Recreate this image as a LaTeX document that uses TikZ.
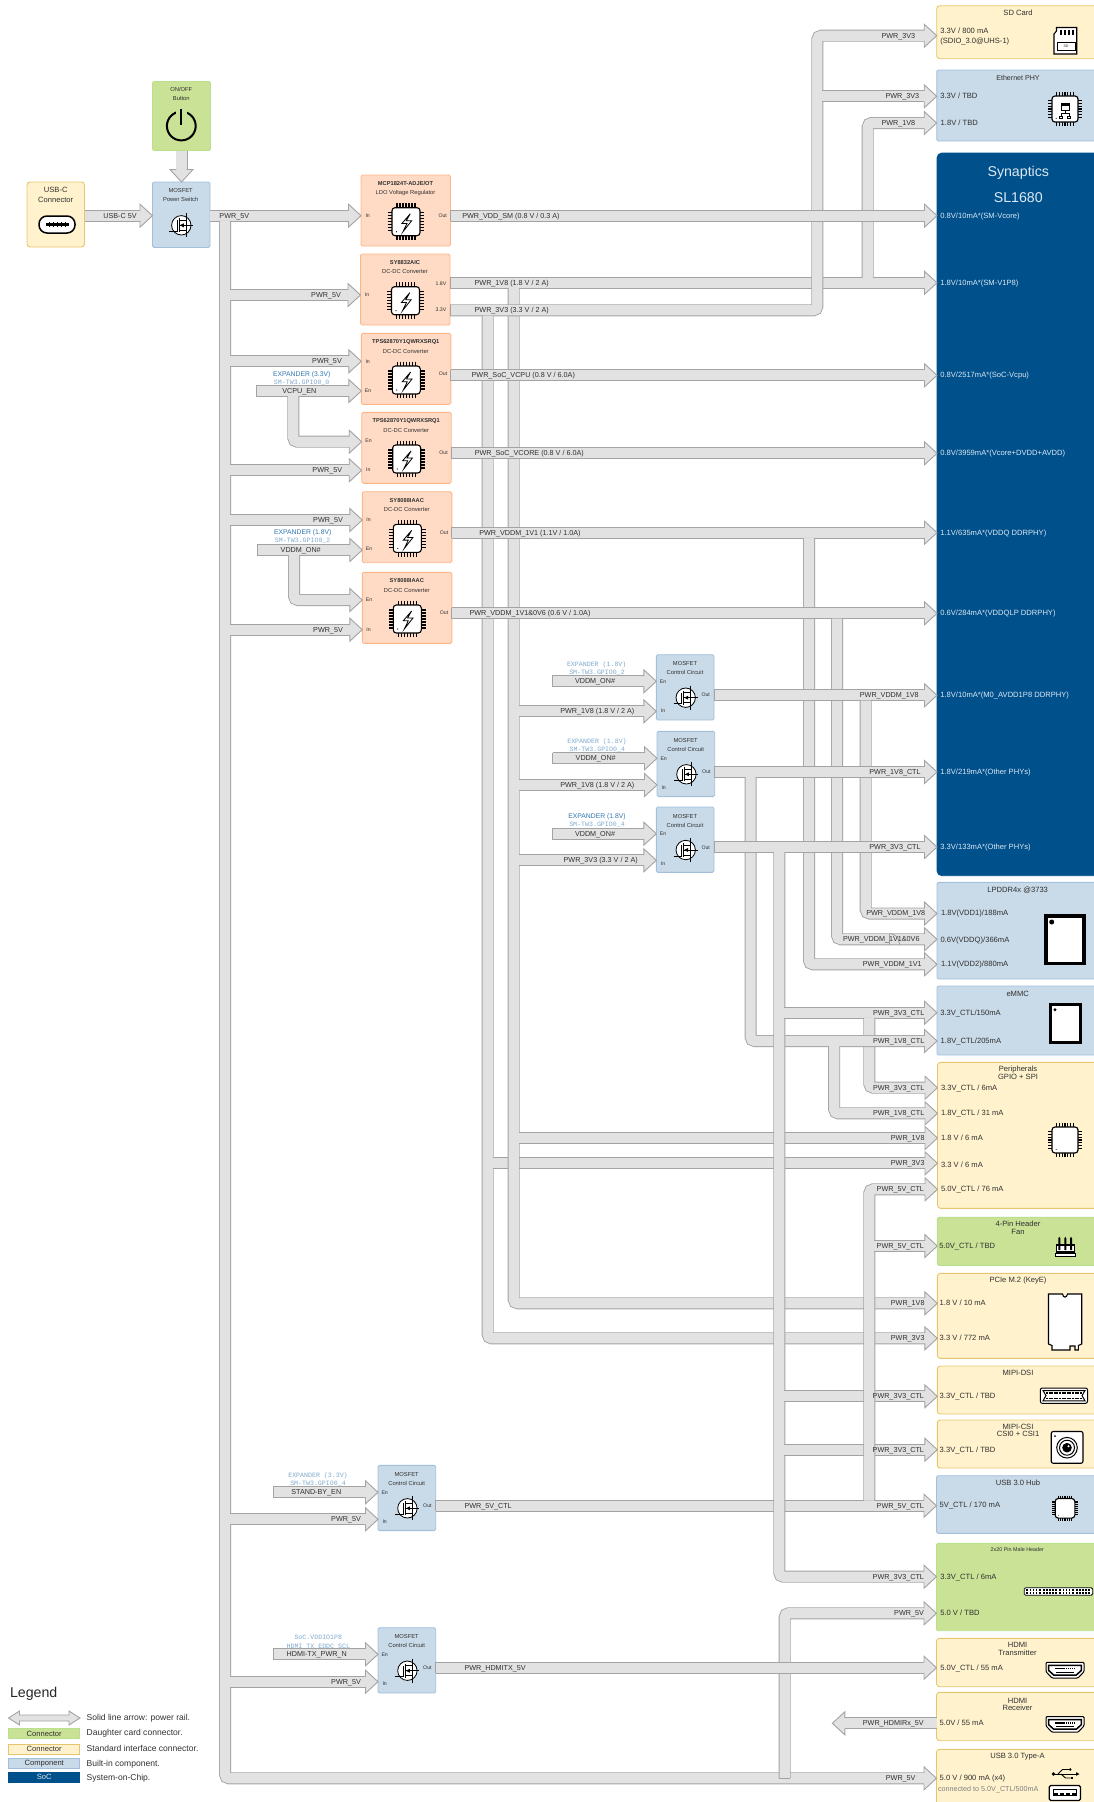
\documentclass[tikz,border=0pt]{standalone}
\usepackage{fontspec}
\setmainfont{Liberation Sans}
\setmonofont{Liberation Mono}
\definecolor{railfill}{HTML}{E2E2E2}
\definecolor{railedge}{HTML}{A3A3A3}
\definecolor{txtc}{HTML}{303030}
\definecolor{orF}{HTML}{FFDAC4}
\definecolor{orS}{HTML}{FFB585}
\definecolor{blF}{HTML}{C9DAE8}
\definecolor{blS}{HTML}{A2C0DC}
\definecolor{grF}{HTML}{C9E296}
\definecolor{grS}{HTML}{B9E08C}
\definecolor{yeF}{HTML}{FFF2CC}
\definecolor{yeS}{HTML}{E6C56E}
\definecolor{socF}{HTML}{00508C}
\definecolor{socT}{HTML}{DCE8F2}
\definecolor{monoB}{HTML}{7FA9CC}
\definecolor{sansB}{HTML}{2E75B0}
\newcounter{tn}
\tikzset{
  railline/.style={double=railfill,draw=railedge,line width=.9pt,double distance=10.2pt,rounded corners=4pt},
  railhd/.style={draw=railedge,fill=railfill,line width=.9pt,line join=miter},
  railcap/.style={draw=railedge,line width=.9pt},
  bx/.style={rectangle,draw,line width=.9pt,inner sep=0pt,outer sep=0pt,anchor=north west,rounded corners=1.5pt},
  obx/.style={fill=orF,draw=orS},
  bbx/.style={fill=blF,draw=blS},
  gbx/.style={fill=grF,draw=grS},
  ybx/.style={fill=yeF,draw=yeS,rounded corners=3pt},
  sbx/.style={fill=socF,draw=socF,rounded corners=5pt},
  txt/.style={inner sep=0pt,outer sep=0pt,text=txtc},
  rl/.style={font=\fontsize{7.2}{8.6}\selectfont,text height=5.2pt,text depth=.4pt},
  tl/.style={font=\fontsize{7.6}{9}\selectfont,text height=5.5pt,text depth=.3pt},
  sl/.style={font=\fontsize{5.8}{7}\selectfont,text height=4.2pt,text depth=.3pt},
  bsl/.style={font=\bfseries\fontsize{5.7}{7}\selectfont,text height=4.2pt,text depth=.3pt},
  pl/.style={font=\fontsize{5.2}{6}\selectfont,text height=3.8pt,text depth=.2pt},
  ml/.style={font=\ttfamily\fontsize{6.6}{8}\selectfont,text=monoB,text height=4.4pt,text depth=.4pt},
  bl/.style={font=\fontsize{6.8}{8}\selectfont,text=sansB,text height=5pt,text depth=.4pt},
  lg/.style={font=\fontsize{8.55}{10}\selectfont,text height=6.2pt,text depth=.4pt},
  hg/.style={font=\fontsize{14.2}{16}\selectfont,text height=10.2pt,text depth=0pt},
  lgb/.style={font=\fontsize{7.6}{9}\selectfont,text height=5.5pt,text depth=.3pt,minimum width=71pt,minimum height=10pt,rounded corners=0pt},
  lft/.style={anchor=west},
  icon/.style={draw=black,line width=1.1pt,fill=white},
  pics/chipic/.style={code={
    \foreach \p in {-9,-6,-3,0,3,6,9}{
      \draw[line width=1.1pt] (\p,-18.3)--(\p,18.3);
      \draw[line width=1.1pt] (-18.3,\p)--(18.3,\p);
    }
    \draw[fill=white,line width=1.1pt,rounded corners=3pt] (-14,-14) rectangle (14,14);
    \fill (-9.5,10) circle (.6pt);
  }},
  pics/boltic/.style={code={
    \draw[line width=.8pt,line join=miter] (4.3,-8)--(-4,1.7)--(1,1.7)--(-3,10)--(5.7,-1)--(.3,-1)--cycle;
  }},
  pics/mosic/.style={code={
    \draw[fill=white,line width=.8pt] (0,0) circle (9.7pt);
    \draw[line width=.7pt] (-12,6)--(-4,6)--(-4,-5);
    \draw[line width=.9pt] (-2,-7)--(-2,7);
    \draw[line width=.7pt] (-2,-5)--(5,-5);
    \draw[line width=.7pt] (-2,5)--(5,5);
    \draw[line width=.7pt] (5,-12)--(5,12);
    \draw[line width=.7pt] (-2,0)--(12,0);
    \fill (-1.5,0)--(2.5,-2)--(2.5,2)--cycle;
  }},
  pics/hdmiic/.style={code={
    \draw[line width=1pt,fill=white,rounded corners=1pt] (-19,-7.8)--(19,-7.8)--(19,1.5)--(13,7.8)--(-13,7.8)--(-19,1.5)--cycle;
    \draw[line width=1.5pt,fill=white] (-16.3,-4.8)--(16.3,-4.8)--(16.3,.3)--(11.3,4.8)--(-11.3,4.8)--(-16.3,.3)--cycle;
    \draw[line width=1.4pt,dash pattern=on 1.6pt off .5pt] (-10,-1.6)--(10,-1.6);
    \draw[line width=.9pt] (-9,2.2)--(9,2.2);
  }}
}
\newcommand{\lab}[3][]{\stepcounter{tn}\node[txt,#1] (t\arabic{tn}) at (#2) {#3};}
\newcommand{\railhead}[2]{\begin{scope}[shift={#1},rotate=#2]\draw[railhd] (-12.5,-5.2)--(-12.5,-11.5)--(0,0)--(-12.5,11.5)--(-12.5,5.2);\end{scope}}
\newcommand{\railR}[2]{\coordinate (rtip) at #2; \draw[railline] #1 -- ([xshift=-12pt]rtip); \railhead{(rtip)}{0}}
\newcommand{\railD}[2]{\coordinate (rtip) at #2; \draw[railline] #1 -- ([yshift=12pt]rtip); \railhead{(rtip)}{-90}}
\newcommand{\railL}[2]{\coordinate (rtip) at #2; \draw[railline] #1 -- ([xshift=12pt]rtip); \railhead{(rtip)}{180}}
\newcommand{\stub}[1]{\coordinate (stb) at #1; \draw[railcap] ([yshift=5.6pt]stb) -- ([yshift=-5.6pt]stb);}
\newcommand{\obox}[5]{%
  \node[bx,obx,minimum width=89.5pt,minimum height=71pt] (#1) at (#2,#3) {};
  \lab[bsl]{#2+44.5,#3+8.7}{#4}
  \lab[sl]{#2+44.5,#3+18}{#5}
  \pic at (#2+45,#3+46.7) {chipic};
  \pic at (#2+45,#3+46.7) {boltic};
}
\newcommand{\cbox}[3]{%
  \node[bx,bbx,minimum width=57.7pt,minimum height=65.3pt] (#1) at (#2,#3) {};
  \lab[sl]{#2+28.7,#3+9.3}{MOSFET}
  \lab[sl]{#2+28.7,#3+18.3}{Control Circuit}
  \pic at (#2+29.4,#3+43) {mosic};
  \lab[pl]{#2+6.7,#3+27}{En}
  \lab[pl]{#2+6.7,#3+56.3}{In}
  \lab[pl]{#2+49.4,#3+40.3}{Out}
}
\newcommand{\rbox}[5]{\node[bx,#2,minimum width=170pt,minimum height={1pt*(#5-#4)}] (#1) at (#3,#4) {};}
\begin{document}
\begin{tikzpicture}[x=1pt,y=-1pt]
\useasboundingbox (0,0) rectangle (1094,1802);
\clip (0,0) rectangle (1094,1802);
% ---- left boxes
\node[bx,gbx,rounded corners=2pt,minimum width=58pt,minimum height=69pt] (onoff) at (152.5,81.5) {};
\node[bx,ybx,minimum width=57.5pt,minimum height=65pt] (usbc) at (27,182) {};
\node[bx,bbx,minimum width=57.5pt,minimum height=65.5pt] (pswitch) at (152.5,182) {};
\lab[sl]{181.3,89.7}{ON/OFF}
\lab[sl]{181.3,99}{Button}
\draw[line width=2pt] (181.3,126) circle (14.4pt);
\fill[grF] (176,109) rectangle (186.5,114.5);
\draw[line width=2.2pt] (181.3,108.5)--(181.3,124.5);
\lab[tl]{55.7,190.3}{USB-C}
\lab[tl]{55.7,199.5}{Connector}
\draw[line width=1.5pt,fill=white,rounded corners=8pt] (39,216) rectangle (75,233);
\draw[line width=2.2pt] (46,224.5)--(69,224.5);
\foreach \q in {48.5,52.5,56.5,60.5,64.5}{\fill (\q,222) rectangle (\q+1.5,227);}
\lab[sl]{180.7,190.7}{MOSFET}
\lab[sl]{180.7,200}{Power Switch}
\pic at (181.3,225.3) {mosic};
% ---- regulators
\obox{mcp}{361}{175}{MCP1824T-ADJE/OT}{LDO Voltage Regulator}
\obox{syA}{360.5}{254}{SY8832AIC}{DC-DC Converter}
\obox{tpsA}{361.3}{333.3}{TPS62870Y1QWRXSRQ1}{DC-DC Converter}
\obox{tpsB}{361.7}{412.3}{TPS62870Y1QWRXSRQ1}{DC-DC Converter}
\obox{syB}{362.3}{491.7}{SY8088IAAC}{DC-DC Converter}
\obox{syC}{362.3}{572.3}{SY8088IAAC}{DC-DC Converter}
\lab[pl]{367.7,216}{In}\lab[pl]{442.7,216}{Out}
\lab[pl]{367,295}{In}\lab[pl]{441,284}{1.8V}\lab[pl]{441,310}{3.3V}
\lab[pl]{367.7,361.7}{In}\lab[pl]{368,391}{En}\lab[pl]{443,373.7}{Out}
\lab[pl]{368.5,440.7}{En}\lab[pl]{368.3,470}{In}\lab[pl]{443.5,453}{Out}
\lab[pl]{368.5,520}{In}\lab[pl]{369,549}{En}\lab[pl]{444,532.7}{Out}
\lab[pl]{369,600}{En}\lab[pl]{368.5,630}{In}\lab[pl]{444,613}{Out}
% ---- control circuits
\cbox{ccA}{656.3}{654.7}
\cbox{ccB}{657}{731.3}
\cbox{ccC}{656.3}{807}
\cbox{ccD}{378}{1465.3}
\cbox{ccE}{378}{1627.7}
% ---- right column boxes
\rbox{sd}{ybx}{936.7}{5.7}{58.7}
\rbox{eth}{bbx}{936.7}{70}{141}
\rbox{soc}{sbx}{937}{153}{875.7}
\rbox{ddr}{bbx}{937}{882.3}{979}
\rbox{emmc}{bbx}{937}{986}{1055}
\rbox{peri}{ybx}{937.5}{1062.3}{1208.3}
\rbox{fan}{gbx}{937.3}{1217.3}{1265.3}
\rbox{pcie}{ybx}{937.3}{1273.3}{1358.3}
\rbox{dsi}{ybx}{937.3}{1366}{1414}
\rbox{csi}{ybx}{937.3}{1420}{1468}
\rbox{hub}{bbx}{936.5}{1475.7}{1533.3}
\rbox{hdr}{gbx}{936.5}{1543.3}{1630.7}
\rbox{hdmit}{ybx}{936.5}{1638.3}{1686.7}
\rbox{hdmir}{ybx}{936.5}{1692.3}{1740.7}
\rbox{usba}{ybx}{936.5}{1749.3}{1830}
% ---- junction coordinates
\coordinate (tk) at (229.8,215.7);
\coordinate (b18) at (513.7,288);
\coordinate (b18r) at (518.5,0);
\coordinate (b33) at (487.7,315.5);
\coordinate (b33r) at (492.5,0);
\coordinate (c33) at (817.3,0);
\coordinate (c33r) at (822.2,0);
\coordinate (e18) at (867.7,277.8);
\coordinate (d11) at (809,537.9);
\coordinate (d06) at (837,618.5);
\coordinate (d18) at (865.7,700.5);
\coordinate (x18) at (750.6,777.2);
\coordinate (x18b) at (834.2,1046.2);
\coordinate (x33) at (779.3,852.2);
\coordinate (x33r) at (784.1,0);
\coordinate (x33b) at (869.3,1017.9);
\coordinate (x5vr) at (874.2,0);
\coordinate (u5v) at (784.7,1778.3);
% ---- inputs
\railR{(usbc.east |- 0,215.7)}{(pswitch.west |- 0,215.7)}
\railD{(onoff.south)}{(onoff.south |- pswitch.north)}
\railR{(pswitch.east |- 0,215.7)}{(mcp.west |- 0,215.7)}
% ---- 5V trunk
\railR{(225,220.9) -- (225,1778.3)}{(usba.west |- 0,1778.3)}
\railR{(tk |- 0,295)}{(syA.west |- 0,295)}
\railR{(tk |- 0,361.3)}{(tpsA.west |- 0,361.3)}
\railR{(tk |- 0,470.3)}{(tpsB.west |- 0,470.3)}
\railR{(tk |- 0,520)}{(syB.west |- 0,520)}
\railR{(tk |- 0,629.7)}{(syC.west |- 0,629.7)}
\railR{(tk |- 0,1519.3)}{(ccD.west |- 0,1519.3)}
\railR{(tk |- 0,1681.7)}{(ccE.west |- 0,1681.7)}
\railR{(u5v) -- (u5v |- 0,1613.3)}{(hdr.west |- 0,1613.3)}
\draw[railcap] ([xshift=-5.6pt]u5v) -- ([xshift=5.6pt]u5v);
\railR{(ccE.east |- 0,1667.7)}{(hdmit.west |- 0,1667.7)}\stub{(ccE.east |- 0,1667.7)}
\railR{(ccD.east |- 0,1505.7)}{(hub.west |- 0,1505.7)}\stub{(ccD.east |- 0,1505.7)}
% ---- 1V8 and 3V3 buses
\railR{(b33r |- 0,1163.3)}{(peri.west |- 0,1163.3)}
\railR{(syA.east |- 0,282.8)}{(soc.west |- 0,282.8)}\stub{(syA.east |- 0,282.8)}
\railR{(b18) -- (b18 |- 0,1303.3)}{(pcie.west |- 0,1303.3)}
\railR{(b18r |- 0,711.3)}{(ccA.west |- 0,711.3)}
\railR{(b18r |- 0,785)}{(ccB.west |- 0,785)}
\railR{(b18r |- 0,860.3)}{(ccC.west |- 0,860.3)}
\railR{(b18r |- 0,1138)}{(peri.west |- 0,1138)}
\railR{(e18) -- (e18 |- 0,123)}{(eth.west |- 0,123)}
\railR{(syA.east |- 0,310.3) -- (c33 |- 0,310.3) -- (c33 |- 0,35.7)}{(sd.west |- 0,35.7)}\stub{(syA.east |- 0,310.3)}
\railR{(c33r |- 0,96.3)}{(eth.west |- 0,96.3)}
\railR{(b33) -- (b33 |- 0,1338.3)}{(pcie.west |- 0,1338.3)}
\draw[railline] (b33r |- 0,1163.3) -- (506.5,1163.3);
% ---- SoC rails
\railR{(mcp.east |- 0,215.7)}{(soc.west |- 0,215.7)}\stub{(mcp.east |- 0,215.7)}
\railR{(tpsA.east |- 0,375.3)}{(soc.west |- 0,375.3)}\stub{(tpsA.east |- 0,375.3)}
\railR{(tpsB.east |- 0,453.3)}{(soc.west |- 0,453.3)}\stub{(tpsB.east |- 0,453.3)}
\railR{(syB.east |- 0,532.7)}{(soc.west |- 0,532.7)}\stub{(syB.east |- 0,532.7)}
\railR{(d11) -- (d11 |- 0,964.3)}{(ddr.west |- 0,964.3)}
\railR{(syC.east |- 0,613.3)}{(soc.west |- 0,613.3)}\stub{(syC.east |- 0,613.3)}
\railR{(d06) -- (d06 |- 0,939.3)}{(ddr.west |- 0,939.3)}
\railR{(ccA.east |- 0,695.3)}{(soc.west |- 0,695.3)}\stub{(ccA.east |- 0,695.3)}
\railR{(d18) -- (d18 |- 0,913.5)}{(ddr.west |- 0,913.5)}
\railR{(ccB.east |- 0,772)}{(soc.west |- 0,772)}\stub{(ccB.east |- 0,772)}
\railR{(x33r |- 0,1012.7)}{(emmc.west |- 0,1012.7)}
\railR{(x33b) -- (x33b |- 0,1087.7)}{(peri.west |- 0,1087.7)}
\railR{(x18) -- (x18 |- 0,1041)}{(emmc.west |- 0,1041)}
\railR{(x18b) -- (x18b |- 0,1113.3)}{(peri.west |- 0,1113.3)}
\railR{(ccC.east |- 0,847)}{(soc.west |- 0,847)}\stub{(ccC.east |- 0,847)}
\railR{(x33) -- (x33 |- 0,1576.7)}{(hdr.west |- 0,1576.7)}
\draw[railline] (x33r |- 0,1012.7) -- (800,1012.7);
\railR{(x33r |- 0,1396.3)}{(dsi.west |- 0,1396.3)}
\railR{(x33r |- 0,1449.7)}{(csi.west |- 0,1449.7)}
\railR{(869.3,1500.5) -- (869.3,1189.3)}{(peri.west |- 0,1189.3)}
\railR{(x5vr |- 0,1246)}{(fan.west |- 0,1246)}
\railL{(hdmir.west |- 0,1723.3)}{(832.3,1723.3)}
% jump on the 1V1&0V6 rail
\draw[railcap] (889.3,933.6)--(889.3,945);
\draw[railcap] (889.5,933.6) .. controls (895,933.6) and (899,937) .. (899.5,945);
% ---- enable rails
\coordinate (en1) at (293.3,396.2);
\coordinate (en2) at (294,555.2);
\railR{(256.7,391)}{(tpsA.west |- 0,391)}
\stub{(256.7,391)}
\railR{(en1) -- (en1 |- 0,441.7)}{(tpsB.west |- 0,441.7)}
\railR{(257.7,550)}{(syB.west |- 0,550)}
\stub{(257.7,550)}
\railR{(en2) -- (en2 |- 0,600)}{(syC.west |- 0,600)}
\railR{(552.3,681.3)}{(ccA.west |- 0,681.3)}\stub{(552.3,681.3)}
\railR{(552.7,758.3)}{(ccB.west |- 0,758.3)}\stub{(552.7,758.3)}
\railR{(552.3,833.7)}{(ccC.west |- 0,833.7)}\stub{(552.3,833.7)}
\railR{(273.3,1492.3)}{(ccD.west |- 0,1492.3)}\stub{(273.3,1492.3)}
\railR{(273.3,1654.3)}{(ccE.west |- 0,1654.3)}\stub{(273.3,1654.3)}
% ---- rail labels
\lab[rl]{120,215.7}{USB-C 5V}
\lab[rl]{234.3,215.7}{PWR\_5V}
\lab[rl]{326,295}{PWR\_5V}
\lab[rl]{327,361.3}{PWR\_5V}
\lab[rl]{327.3,470.3}{PWR\_5V}
\lab[rl]{328,520}{PWR\_5V}
\lab[rl]{328,629.7}{PWR\_5V}
\lab[rl]{346,1519.3}{PWR\_5V}
\lab[rl]{346,1681.7}{PWR\_5V}
\lab[rl]{900.7,1778.3}{PWR\_5V}
\lab[rl]{909,1613.3}{PWR\_5V}
\lab[rl]{511,215.7}{PWR\_VDD\_SM (0.8 V / 0.3 A)}
\lab[rl]{511.7,282.8}{PWR\_1V8 (1.8 V / 2 A)}
\lab[rl]{511.7,310.3}{PWR\_3V3 (3.3 V / 2 A)}
\lab[rl]{523.3,375.3}{PWR\_SoC\_VCPU (0.8 V / 6.0A)}
\lab[rl]{529.3,453.3}{PWR\_SoC\_VCORE (0.8 V / 6.0A)}
\lab[rl]{530,532.7}{PWR\_VDDM\_1V1 (1.1V / 1.0A)}
\lab[rl]{530,613.3}{PWR\_VDDM\_1V1\&0V6 (0.6 V / 1.0A)}
\lab[rl]{898.3,35.7}{PWR\_3V3}
\lab[rl]{902.3,96.3}{PWR\_3V3}
\lab[rl]{898.3,123}{PWR\_1V8}
\lab[rl]{597.3,711.3}{PWR\_1V8 (1.8 V / 2 A)}
\lab[rl]{597.3,785}{PWR\_1V8 (1.8 V / 2 A)}
\lab[rl]{600.7,860.3}{PWR\_3V3 (3.3 V / 2 A)}
\lab[rl]{595,681.3}{VDDM\_ON\#}
\lab[rl]{595.7,758.3}{VDDM\_ON\#}
\lab[rl]{595,833.7}{VDDM\_ON\#}
\lab[rl]{889.3,695.3}{PWR\_VDDM\_1V8}
\lab[rl]{895,772}{PWR\_1V8\_CTL}
\lab[rl]{895,847}{PWR\_3V3\_CTL}
\lab[rl]{895.7,913.5}{PWR\_VDDM\_1V8}
\lab[rl]{881.3,939.3}{PWR\_VDDM\_1V1\&0V6}
\lab[rl]{892.3,964.3}{PWR\_VDDM\_1V1}
\lab[rl]{898.7,1012.7}{PWR\_3V3\_CTL}
\lab[rl]{898.7,1041}{PWR\_1V8\_CTL}
\lab[rl]{898.7,1087.7}{PWR\_3V3\_CTL}
\lab[rl]{898.7,1113.3}{PWR\_1V8\_CTL}
\lab[rl]{907.7,1138}{PWR\_1V8}
\lab[rl]{907.7,1163.3}{PWR\_3V3}
\lab[rl]{900.3,1189.3}{PWR\_5V\_CTL}
\lab[rl]{900.3,1246}{PWR\_5V\_CTL}
\lab[rl]{907.7,1303.3}{PWR\_1V8}
\lab[rl]{907.7,1338.3}{PWR\_3V3}
\lab[rl]{898.3,1396.3}{PWR\_3V3\_CTL}
\lab[rl]{898.3,1449.7}{PWR\_3V3\_CTL}
\lab[rl]{900.3,1505.7}{PWR\_5V\_CTL}
\lab[rl,lft]{464.5,1505.7}{PWR\_5V\_CTL}
\lab[rl]{898.3,1576.7}{PWR\_3V3\_CTL}
\lab[rl,lft]{464.5,1667.7}{PWR\_HDMITX\_5V}
\lab[rl]{893.3,1723.3}{PWR\_HDMIRx\_5V}
\lab[rl]{299.3,391}{VCPU\_EN}
\lab[rl]{300.7,550}{VDDM\_ON\#}
\lab[rl]{316.3,1492.3}{STAND-BY\_EN}
\lab[rl]{316.7,1654.3}{HDMI-TX\_PWR\_N}
% ---- signal source labels
\lab[bl]{301.7,374.3}{EXPANDER (3.3V)}
\lab[ml]{301.7,382.7}{SM-TW3.GPIO0\_0}
\lab[bl]{302.7,532.3}{EXPANDER (1.8V)}
\lab[ml]{302.7,540.7}{SM-TW3.GPIO0\_2}
\lab[ml]{596.7,664}{EXPANDER (1.8V)}
\lab[ml]{597,672}{SM-TW3.GPIO0\_2}
\lab[ml]{597,741}{EXPANDER (1.8V)}
\lab[ml]{597.3,749}{SM-TW3.GPIO0\_4}
\lab[bl]{597,815.7}{EXPANDER (1.8V)}
\lab[ml]{597,824}{SM-TW3.GPIO0\_4}
\lab[ml]{318,1475}{EXPANDER (3.3V)}
\lab[ml]{318,1483}{SM-TW3.GPIO0\_4}
\lab[ml]{318.3,1637}{SoC.VDDIO1P8}
\lab[ml]{318.3,1646}{HDMI\_TX\_EDDC\_SCL}
% ---- right column texts
\lab[tl]{1018,13.3}{SD Card}
\lab[tl,lft]{940.3,31.3}{3.3V / 800 mA}
\lab[tl,lft]{940.3,41}{(SDIO\_3.0@UHS-1)}
\draw[icon] (1054,54)--(1054,34)--(1056.5,31)--(1056.5,27.5)--(1076.7,27.5)--(1076.7,54)--cycle;
\foreach \q in {1060.5,1064.5,1068.5,1072.5}{\fill (\q-1,29.5) rectangle (\q+1,34.7);}
\draw[line width=.9pt] (1057.3,42.3) rectangle (1075,50.5);
\node[txt,font=\fontsize{3.6}{4}\selectfont] (sdtxt) at (1066,46.4) {SD};
\lab[tl,font=\fontsize{7.1}{8}\selectfont]{1018,78.3}{Ethernet PHY}
\lab[tl,lft]{940.3,96}{3.3V / TBD}
\lab[tl,lft]{940.7,123.3}{1.8V / TBD}
\pic[scale=.93] at (1065,109) {chipic};
\draw[line width=.7pt,fill=white] (1061,103)rectangle(1069,110);
\fill (1061,103)rectangle(1069,105.5);
\draw[line width=.7pt] (1065,110)--(1065,113) (1061,116)--(1061,113)--(1069,113)--(1069,116);
\draw[line width=.6pt] (1059.5,116)rectangle(1062.5,118) (1067.5,116)rectangle(1070.5,118);
% soc
\lab[hg,text=socT]{1018.3,171.3}{Synaptics}
\lab[hg,text=socT]{1018.3,197.3}{SL1680}
\foreach \yy/\tt in {216/0.8V\slash 10mA*(SM-Vcore),282.8/1.8V\slash 10mA*(SM-V1P8),375.3/0.8V\slash 2517mA*(SoC-Vcpu),453.3/0.8V\slash 3959mA*(Vcore+DVDD+AVDD),532.7/1.1V\slash 635mA*(VDDQ DDRPHY),613.3/0.6V\slash 284mA*(VDDQLP DDRPHY),695.3/1.8V\slash 10mA*(M0\_AVDD1P8 DDRPHY),772/1.8V\slash 219mA*(Other PHYs),847/3.3V\slash 133mA*(Other PHYs)}{
  \lab[tl,lft,text=socT]{940.3,\yy}{\tt}
}
% ddr
\lab[tl]{1017.7,890.3}{LPDDR4x @3733}
\lab[tl,lft]{941,913.3}{1.8V(VDD1)/188mA}
\lab[tl,lft]{940.5,940}{0.6V(VDDQ)/366mA}
\lab[tl,lft]{941,964}{1.1V(VDD2)/880mA}
\draw[line width=3.2pt,fill=white] (1046,916) rectangle (1084,963.7);
\fill (1051.7,922) circle (2.5pt);
\lab[tl]{1017.7,994.3}{eMMC}
\lab[tl,lft]{940.3,1013}{3.3V\_CTL/150mA}
\lab[tl,lft]{940.7,1040.7}{1.8V\_CTL/205mA}
\draw[line width=3pt,fill=white] (1050.5,1004.8) rectangle (1080.8,1042.8);
\fill (1055,1009.7) circle (1.7pt);
% peripherals
\lab[tl]{1018,1069}{Peripherals}
\lab[tl]{1018,1077}{GPIO + SPI}
\lab[tl,lft]{941,1088}{3.3V\_CTL / 6mA}
\lab[tl,lft]{941,1113}{1.8V\_CTL / 31 mA}
\lab[tl,lft]{941,1138.3}{1.8 V / 6 mA}
\lab[tl,lft]{941,1165}{3.3 V / 6 mA}
\lab[tl,lft]{941,1189}{5.0V\_CTL / 76 mA}
\pic[scale=.93] at (1065,1140) {chipic};
% fan
\lab[tl]{1018,1224.3}{4-Pin Header}
\lab[tl]{1018,1232.3}{Fan}
\lab[tl,lft]{939.3,1245.7}{5.0V\_CTL / TBD}
\draw[line width=.9pt,fill=white] (1055.7,1253.5) rectangle (1075,1256);
\draw[line width=1.2pt,fill=white] (1056.5,1245) rectangle (1074.5,1252);
\foreach \q in {1059.3,1065.3,1071}{\fill (\q-1,1238.5) -- (\q,1236.7) -- (\q+1,1238.5) -- (\q+1,1250) -- (\q-1,1250) -- cycle;}
% pcie
\lab[tl]{1018,1280.3}{PCIe M.2 (KeyE)}
\lab[tl,lft]{939.7,1303}{1.8 V / 10 mA}
\lab[tl,lft]{939.7,1338}{3.3 V / 772 mA}
\draw[icon] (1048.5,1294)--(1062.5,1294) .. controls (1063,1298) and (1067,1298) .. (1067.5,1294) --(1081.7,1294)--(1081.7,1344)--(1078.3,1345.5)--(1078.3,1350)--(1075,1350)--(1075,1346)--(1070,1346)--(1070,1350)--(1052,1350)--(1052,1345.5)--(1048.5,1344)--cycle;
% mipi
\lab[tl]{1018,1373}{MIPI-DSI}
\lab[tl,lft]{939.7,1396}{3.3V\_CTL / TBD}
\draw[line width=1pt,fill=white,rounded corners=2pt] (1040.3,1388) rectangle (1087.5,1403.3);
\draw[line width=1pt] (1043,1390.5)--(1085,1390.5)--(1082,1395.6)--(1085,1400.8)--(1043,1400.8)--(1046,1395.6)--cycle;
\draw[line width=1.3pt,dash pattern=on 2pt off .6pt] (1046,1393)--(1082,1393);
\draw[line width=1.3pt,dash pattern=on 2pt off .6pt] (1046,1398.4)--(1082,1398.4);
\lab[tl]{1018,1427}{MIPI-CSI}
\lab[tl]{1018,1434.3}{CSI0 + CSI1}
\lab[tl,lft]{939.7,1450}{3.3V\_CTL / TBD}
\draw[line width=1.1pt,fill=white,rounded corners=2pt] (1051.2,1431.5) rectangle (1083,1463.2);
\fill (1055,1436) circle (1pt);
\draw[line width=1pt] (1067,1447.7) circle (10.3pt);
\draw[line width=1pt] (1067,1447.7) circle (7.5pt);
\fill (1067,1447.7) circle (4.8pt);
\fill[white] (1068.5,1446.3) circle (1.1pt);
% hub
\lab[tl]{1018,1483.3}{USB 3.0 Hub}
\lab[tl,lft]{939.7,1505.3}{5V\_CTL / 170 mA}
\pic[scale=.7] at (1065,1508.3) {chipic};
% header
\lab[sl,font=\fontsize{5.4}{6}\selectfont]{1017.3,1550}{2x20 Pin Male Header}
\lab[tl,lft]{940.3,1577}{3.3V\_CTL / 6mA}
\lab[tl,lft]{940.3,1613}{5.0 V / TBD}
\draw[line width=.8pt,fill=white,rounded corners=1.5pt] (1024.2,1587.7) rectangle (1092.7,1595.3);
\foreach \i in {0,...,19}{
  \pgfmathsetmacro{\qx}{1027.3+\i*3.1+floor(\i/5)*1.0}
  \fill (\qx-.85,1589.3) rectangle (\qx+.85,1591);
  \fill (\qx-.85,1592) rectangle (\qx+.85,1593.7);
}
% hdmi
\lab[tl]{1017.5,1645}{HDMI}
\lab[tl]{1017.5,1653}{Transmitter}
\lab[tl,lft]{940.3,1668}{5.0V\_CTL / 55 mA}
\pic at (1065,1670.2) {hdmiic};
\lab[tl]{1017.5,1700.5}{HDMI}
\lab[tl]{1017.5,1707.5}{Receiver}
\lab[tl,lft]{939.7,1723.3}{5.0V / 55 mA}
\pic at (1065,1724.4) {hdmiic};
% usb-a
\lab[tl]{1017.5,1756.3}{USB 3.0 Type-A}
\lab[tl,lft]{939.7,1778.3}{5.0 V / 900 mA (x4)}
\lab[tl,lft,text=black!50,font=\fontsize{7.2}{8}\selectfont]{938,1789.3}{connected to 5.0V\_CTL/500mA}
\fill (1053.5,1774) circle (1.8pt);
\draw[line width=1pt] (1053.5,1774)--(1077,1774);
\fill (1079.5,1774)--(1076,1772.2)--(1076,1775.8)--cycle;
\draw[line width=.9pt] (1058,1774)--(1062.5,1769.5)--(1069,1769.5);
\fill (1070.3,1769.5) circle (1.4pt);
\draw[line width=.9pt] (1061,1774)--(1065.5,1778)--(1070.5,1778);
\fill (1070.5,1776.6) rectangle (1073.3,1779.4);
\draw[line width=1.2pt,fill=white,rounded corners=1.5pt] (1049.2,1785.5) rectangle (1080.5,1800.5);
\draw[line width=1pt] (1053.5,1789.3)--(1076.5,1789.3)--(1076.5,1795.2)--(1053.5,1795.2)--cycle;
\fill (1053.5,1792.5) rectangle (1076.5,1795.2);
\foreach \q in {1058,1064,1070}{\fill[white] (\q,1793) rectangle (\q+2,1794.6);}
% ---- legend
\lab[hg,lft,text=black!85]{10,1692}{Legend}
\coordinate (lga) at (8.5,1718);
\coordinate (lgb) at (80,1718);
\draw[railhd] (lga) -- ++(11,-7) -- ++(0,4) -- ([shift={(-11,-3)}]lgb) -- ++(0,-4) -- (lgb) -- ++(-11,7) -- ++(0,-4) -- ([shift={(11,3)}]lga) -- ++(0,4) -- cycle;
\node[bx,gbx,lgb,text=txtc] (lg1) at (8.7,1728.5) {Connector};
\node[bx,ybx,lgb,text=txtc] (lg2) at (8.7,1744) {Connector};
\node[bx,bbx,lgb,text=txtc] (lg3) at (8.7,1758) {Component};
\node[bx,sbx,lgb,text=socT] (lg4) at (8.7,1772) {SoC};
\lab[lg,lft]{86.7,1718}{Solid line arrow: power rail.}
\lab[lg,lft]{86.7,1733}{Daughter card connector.}
\lab[lg,lft]{86.7,1749}{Standard interface connector.}
\lab[lg,lft]{86.7,1764}{Built-in component.}
\lab[lg,lft]{86.7,1778}{System-on-Chip.}
\end{tikzpicture}
\end{document}
